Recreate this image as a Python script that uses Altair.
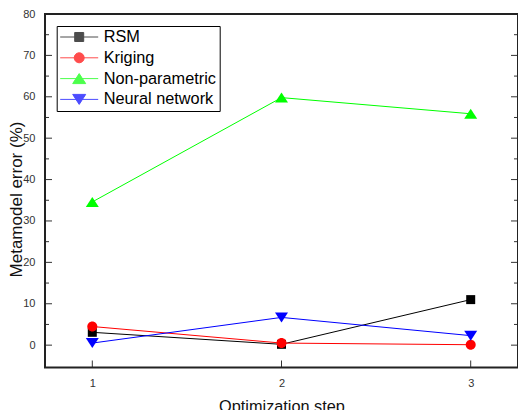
import altair as alt
import pandas as pd

# ---- data ----
steps = [1, 2, 3]
series_names = ["RSM", "Kriging", "Non-parametric", "Neural network"]
rsm = [3.1, 0.2, 11.0]
kriging = [4.5, 0.5, 0.1]
nonparam = [34.6, 59.8, 55.9]
neural = [0.5, 6.7, 2.3]
series_colors = ["#000000", "#ff0000", "#00ff00", "#0000ff"]

y_major = [0, 10, 20, 30, 40, 50, 60, 70, 80]
y_minor = [5, 15, 25, 35, 45, 55, 65, 75]
x_ticks = [1, 2, 3]

# marker shapes (plot) and legend symbols (line + marker)
plot_shapes = [
    "M-0.45,-0.45H0.45V0.45H-0.45Z",
    "M0.5,0A0.5,0.5,0,1,1,-0.5,0A0.5,0.5,0,1,1,0.5,0Z",
    "M0,-0.5L0.65,0.5H-0.65Z",
    "M0,0.5L0.65,-0.5H-0.65Z",
]
legend_shapes = [
    "M-1,0H1M-0.237,-0.237H0.237V0.237H-0.237Z",
    "M-1,0H1M0.263,0A0.263,0.263,0,1,1,-0.263,0A0.263,0.263,0,1,1,0.263,0Z",
    "M-1,0H1M0,-0.263L0.342,0.263H-0.342Z",
    "M-1,0H1M0,0.263L0.342,-0.263H-0.342Z",
]

rows = []
for name, vals in zip(series_names, [rsm, kriging, nonparam, neural]):
    for s, v in zip(steps, vals):
        rows.append({"step": s, "series": name, "value": v})
df = pd.DataFrame(rows)

W, H = 473, 353.5
FONT = "Liberation Sans"

x_scale = alt.Scale(domain=[0.75, 3.25], nice=False, zero=False)
y_scale = alt.Scale(domain=[-5.4, 80], nice=False, zero=False)

x_enc = alt.X(
    "step:Q", scale=x_scale,
    axis=alt.Axis(values=x_ticks, format="d", ticks=False, tickSize=0, domain=False, grid=False,
                  labelFontSize=11, labelFont=FONT, labelColor="#333", labelPadding=10,
                  title="Optimization step", titleFont=FONT, titleFontSize=16.3,
                  titleFontWeight="normal", titleColor="#111", titleBaseline="alphabetic",
                  titleY=44),
)
y_enc = alt.Y(
    "value:Q", scale=y_scale,
    axis=alt.Axis(values=y_major, format="d", ticks=False, tickSize=0, domain=False, grid=False,
                  labelFontSize=11, labelFont=FONT, labelColor="#333", labelPadding=10,
                  title="Metamodel error (%)", titleFont=FONT, titleFontSize=17,
                  titleFontWeight="normal", titleColor="#111", titleBaseline="alphabetic",
                  titleAlign="center", titleAngle=270, titleX=-24, titleY=185),
)

col_scale = alt.Scale(domain=series_names, range=series_colors)

lines = alt.Chart(df).mark_line(strokeWidth=1).encode(
    x=x_enc, y=y_enc,
    color=alt.Color("series:N", scale=col_scale, legend=None),
    detail="series:N",
)

points = alt.Chart(df).mark_point(filled=True, size=400, opacity=1).encode(
    x="step:Q", y="value:Q",
    color=alt.Color("series:N", scale=col_scale, legend=None),
    shape=alt.Shape("series:N", scale=alt.Scale(domain=series_names, range=plot_shapes), legend=None),
)

leg = alt.Legend(
    title=None, orient="none", legendX=11.7, legendY=12,
    symbolSize=1444, symbolStrokeWidth=1, symbolOffset=0,
    labelFont=FONT, labelFontSize=16.3, labelColor="#000", labelOffset=5, labelLimit=0,
    padding=3, strokeColor="#000", fillColor="#fff", clipHeight=16, rowPadding=3.8,
)

legend_layer = alt.Chart(df).mark_point(filled=True, size=0, strokeWidth=1).encode(
    x="step:Q", y="value:Q",
    color=alt.Color("series:N", scale=col_scale, legend=leg),
    stroke=alt.Stroke("series:N", scale=alt.Scale(domain=series_names, range=series_colors), legend=leg),
    shape=alt.Shape("series:N", scale=alt.Scale(domain=series_names, range=legend_shapes), legend=leg),
)

major_df = pd.DataFrame({"v": y_major})
minor_df = pd.DataFrame({"v": y_minor})
xt_df = pd.DataFrame({"s": x_ticks})
frame_df = pd.DataFrame({"f": [0]})
tick_col = "#333"

frame = alt.Chart(frame_df).mark_rect(fill="transparent", stroke="#222", strokeWidth=2).encode(
    x=alt.value(0), x2=alt.value(W), y=alt.value(0), y2=alt.value(H))

yl_major = alt.Chart(major_df).mark_rule(color=tick_col, strokeWidth=1).encode(
    y=alt.Y("v:Q", scale=y_scale), x=alt.value(0), x2=alt.value(7))
yr_major = alt.Chart(major_df).mark_rule(color=tick_col, strokeWidth=1).encode(
    y=alt.Y("v:Q", scale=y_scale), x=alt.value(W - 7), x2=alt.value(W))
yl_minor = alt.Chart(minor_df).mark_rule(color=tick_col, strokeWidth=1).encode(
    y=alt.Y("v:Q", scale=y_scale), x=alt.value(0), x2=alt.value(4))
yr_minor = alt.Chart(minor_df).mark_rule(color=tick_col, strokeWidth=1).encode(
    y=alt.Y("v:Q", scale=y_scale), x=alt.value(W - 4), x2=alt.value(W))
xb_major = alt.Chart(xt_df).mark_rule(color=tick_col, strokeWidth=1).encode(
    x=alt.X("s:Q", scale=x_scale), y=alt.value(H - 7), y2=alt.value(H))

chart = alt.layer(
    yl_major, yr_major, yl_minor, yr_minor, xb_major,
    lines, points, frame, legend_layer,
).resolve_scale(
    color="independent", shape="independent", stroke="independent"
).properties(
    width=W, height=H,
    autosize=alt.AutoSizeParams(type="none"),
    padding={"left": 37, "top": 6, "right": 0, "bottom": 50},
    background="white",
).configure_view(
    stroke="transparent", strokeWidth=0
)

chart.save("out.html", embed_options={"renderer": "svg", "actions": False})
